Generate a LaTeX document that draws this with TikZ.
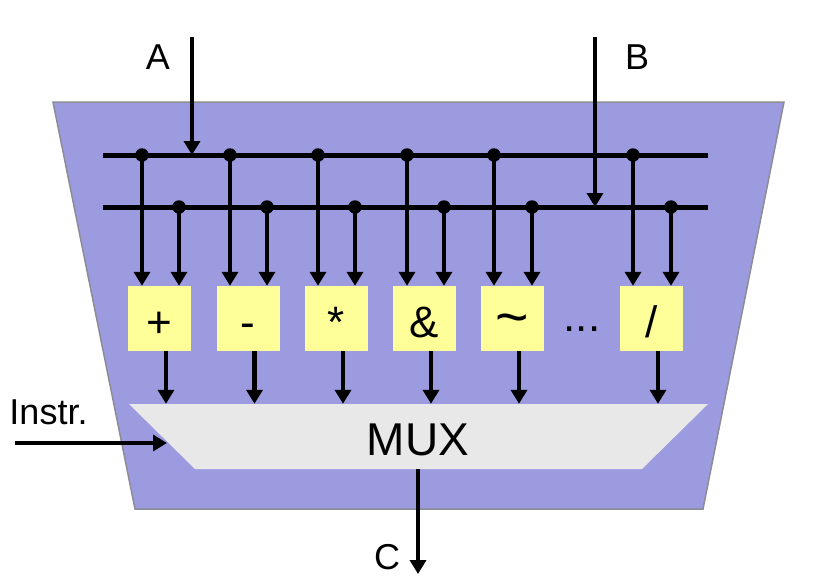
\documentclass[tikz,border=0pt]{standalone}
\usepackage{fontspec}
\setmainfont{Liberation Sans}
\usetikzlibrary{arrows.meta}
\definecolor{alubg}{RGB}{157,155,224}
\definecolor{aluedge}{RGB}{140,140,150}
\definecolor{opfill}{RGB}{255,255,153}
\definecolor{muxfill}{RGB}{232,232,232}
\tikzset{
  wire/.style={line width=5pt},
  arr/.style={line width=4.6pt,-{Triangle[length=14pt,width=16pt]}},
  dot/.style={circle,fill=black,inner sep=0pt,minimum size=13.5pt},
  opbox/.style={fill=opfill,draw=none,minimum width=63pt,minimum height=65pt,
    inner sep=0pt,text height=37pt,text depth=0pt,font=\fontsize{44}{48}\selectfont},
  lbl/.style={font=\fontsize{36}{40}\selectfont,inner sep=0pt},
}
\begin{document}
\begin{tikzpicture}[x=1pt,y=-1pt]
\useasboundingbox (0,0) rectangle (814,587);
% outer ALU trapezoid
\fill[alubg,draw=aluedge,line width=1.5pt] (53,102) -- (784,102) -- (703,509) -- (135,509) -- cycle;
% MUX shape
\fill[muxfill] (129,404) -- (708,404) -- (642,469) -- (195,469) -- cycle;
\node[minimum width=579pt,minimum height=65pt,inner sep=0pt] (mux) at (418.5,436.5) {};
\node[anchor=base,font=\fontsize{46}{50}\selectfont,inner sep=0pt] (muxlbl) at (418,455) {MUX};
% buses
\coordinate (busAl) at (103,155); \coordinate (busAr) at (708,155);
\coordinate (busBl) at (103,207); \coordinate (busBr) at (708,207);
\draw[wire] (busAl) -- (busAr);
\draw[wire] (busBl) -- (busBr);
% inputs A and B
\coordinate (Ain) at (192,37); \coordinate (Abus) at (192,155);
\coordinate (Bin) at (595,37); \coordinate (Bbus) at (595,207);
\draw[arr] (Ain) -- (Abus);
\draw[arr] (Bin) -- (Bbus);
\node[lbl] (Alab) at (158,57) {A};
\node[lbl] (Blab) at (637,57) {B};
% operator boxes
\node[opbox] (add) at (159.5,318.5) {+};
\node[opbox] (sub) at (248,318.5) {-};
\node[opbox] (mul) at (336.5,318.5) {*};
\node[opbox] (and) at (424.5,318.5) {\&};
\node[opbox] (not) at (512.5,318.5) {\raisebox{1pt}{\scalebox{1.3}{\char`\~}}};
\node[opbox] (div) at (651.5,318.5) {/};
\node[anchor=base,font=\fontsize{44}{48}\selectfont,inner sep=0pt] (dots) at (582,331) {...};
% bus taps
\foreach \n/\xa/\xb in {add/142/179,sub/230/267,mul/318/355,and/407/444,not/494/532,div/633/671}{
  \node[dot] (\n a) at (\xa,155) {};
  \node[dot] (\n b) at (\xb,207) {};
  \draw[arr] (\n a.center) -- (\n a.center |- \n.north);
  \draw[arr] (\n b.center) -- (\n b.center |- \n.north);
  \draw[arr] ([xshift=6.5pt]\n.south) -- ([xshift=6.5pt]\n.south |- mux.north);
}
% instruction input
\coordinate (Iin) at (15,443); \coordinate (Imux) at (167,443);
\draw[arr,line width=4pt] (Iin) -- (Imux);
\node[font=\fontsize{36}{40}\selectfont,inner sep=0pt] (Ilab) at (48.5,412) {Instr.};
% output C
\coordinate (Cout) at (418,574);
\draw[arr] (mux.south -| Cout) -- (Cout);
\node[lbl] (Clab) at (387,557) {C};
\end{tikzpicture}
\end{document}
